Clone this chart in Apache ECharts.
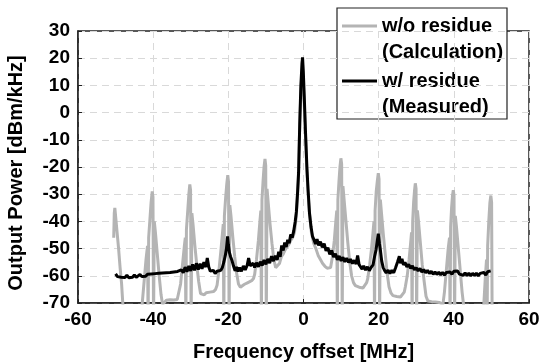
<!DOCTYPE html>
<html><head><meta charset="utf-8">
<script src="https://cdn.jsdelivr.net/npm/echarts@6/dist/echarts.min.js"></script>
<style>html,body{margin:0;padding:0;background:#fff}#c{width:539px;height:362px}</style>
</head><body><div id="c"></div>
<script>
// Axis ranges / ticks
const xRange = [-60, 60, 20];
const yRange = [-70, 30, 10];
const xTitle = 'Frequency offset [MHz]';
const yTitle = 'Output Power [dBm/kHz]';
const seriesNames = ['w/o residue (Calculation)', 'w/ residue (Measured)'];
const legendLines = [['w/o residue', '(Calculation)'], ['w/ residue', '(Measured)']];

// w/ residue (Measured): [MHz, dBm/kHz]
const measuredPoints = [
[-50,-59.3],[-49.5,-60.3],[-49,-59.6],[-48.5,-60.5],[-48,-59.9],[-47.5,-60.6],[-47,-59.8],[-46.5,-60.7],[-46,-60.0],[-45.5,-60.5],
[-45,-59.7],[-44.5,-60.6],[-44,-60.0],[-43.5,-59.5],[-43,-60.3],[-42.5,-59.6],[-42,-60.2],[-41.5,-59.4],[-41,-60.1],[-40.5,-59.3],
[-40,-59.9],[-39.5,-59.2],[-39,-59.9],[-38.5,-59.1],[-38,-59.8],[-37.5,-59.0],[-37,-59.6],[-36.5,-58.9],[-36,-59.5],[-35.5,-58.8],
[-35,-59.4],[-34.5,-58.6],[-34,-59.2],[-33.5,-58.4],[-33,-59.0],[-32.5,-57.8],[-32,-58.9],[-31.5,-56.8],[-31,-58.5],[-30.5,-56.4],
[-30,-58.2],[-29.5,-55.8],[-29,-58.0],[-28.5,-55.4],[-28,-57.7],[-27.5,-55.6],[-27,-57.4],[-26.5,-55.0],[-26,-56.8],[-25.6,-53.5],
[-25.2,-56.8],[-24.8,-58.3],[-24.4,-59.0],[-24,-58.0],[-23.5,-59.2],[-23,-58.3],[-22.5,-59.0],[-22,-58.0],[-21.6,-57.0],[-21.2,-55.0],
[-20.8,-52.5],[-20.5,-50.0],[-20.2,-45.5],[-20.0,-48.5],[-19.7,-51.5],[-19.4,-53.0],[-19.0,-54.5],[-18.6,-56.5],[-18.2,-58.2],[-17.8,-56.8],
[-17.4,-58.4],[-17,-57.0],[-16.5,-58.3],[-16,-56.4],[-15.5,-57.8],[-15,-56.2],[-14.6,-53.5],[-14.2,-56.3],[-13.8,-57.0],[-13.4,-55.4],
[-13,-56.9],[-12.5,-55.2],[-12,-56.7],[-11.5,-54.8],[-11,-56.2],[-10.5,-54.2],[-10,-55.8],[-9.5,-53.8],[-9,-55.3],[-8.5,-52.8],
[-8,-54.6],[-7.5,-52.6],[-7,-54.2],[-6.6,-51.2],[-6.2,-53.0],[-5.8,-48.8],[-5.4,-50.7],[-5.0,-47.8],[-4.6,-49.4],[-4.2,-46.8],
[-3.8,-48.0],[-3.4,-44.8],[-3.0,-46.0],[-2.6,-43.5],[-2.2,-40.0],[-1.9,-36.5],[-1.6,-30.0],[-1.3,-22.0],[-1.0,-4.0],[-0.7,10.0],
[-0.4,18.0],[-0.25,20.3],[-0.05,15.0],[0.2,6.0],[0.5,-6.0],[0.9,-20.0],[1.2,-28.0],[1.6,-37.0],[2.0,-42.0],[2.4,-45.5],
[2.8,-46.8],[3.2,-48.3],[3.6,-46.5],[4.0,-48.8],[4.5,-47.5],[5.0,-49.5],[5.5,-48.2],[6.0,-50.8],[6.5,-49.7],[7.0,-52.1],
[7.5,-50.7],[8.0,-53.1],[8.5,-51.9],[9.0,-54.1],[9.5,-52.7],[10,-54.5],[10.5,-53.2],[11,-54.9],[11.5,-53.5],[12,-55.1],
[12.5,-53.9],[13,-55.5],[13.5,-54.3],[14,-55.7],[14.4,-52.5],[14.8,-55.9],[15.2,-56.0],[15.6,-57.6],[16,-56.3],[16.5,-57.9],
[17,-56.7],[17.5,-58.1],[18,-56.9],[18.5,-56.0],[18.9,-53.0],[19.3,-50.5],[19.6,-47.5],[19.9,-44.5],[20.2,-48.0],[20.5,-51.0],
[20.8,-54.5],[21.2,-57.0],[21.6,-58.1],[22,-58.9],[22.5,-57.9],[23,-59.2],[23.5,-58.0],[24,-58.9],[24.5,-57.0],[25,-55.0],
[25.5,-52.8],[25.8,-55.4],[26.2,-53.8],[26.6,-56.0],[27,-55.0],[27.5,-56.7],[28,-55.8],[28.5,-57.3],[29,-56.4],[29.5,-57.8],
[30,-57.0],[30.5,-58.2],[31,-57.3],[31.5,-58.6],[32,-57.7],[32.5,-58.9],[33,-58.0],[33.5,-59.2],[34,-58.3],[34.5,-59.4],
[35,-58.6],[35.5,-59.5],[36,-58.7],[36.5,-59.6],[37,-58.8],[37.5,-59.7],[38,-58.8],[38.5,-59.5],[39,-58.6],[39.5,-59.4],
[40,-58.3],[40.5,-59.0],[41,-58.2],[41.5,-59.4],[42,-58.7],[42.5,-59.8],[43,-58.9],[43.5,-59.9],[44,-59.0],[44.5,-60.0],
[45,-59.1],[45.5,-59.9],[46,-59.0],[46.5,-60.0],[47,-59.1],[47.5,-59.8],[48,-58.8],[48.5,-59.7],[49,-58.5],[49.5,-59.2],[49.8,-58.2]
];

// w/o residue (Calculation): [MHz, dBm/kHz]
const calculatedPoints = [
[-50.5,-46],[-50.35,-37],[-50.2,-35.0],[-50.0,-38],[-49.6,-44],[-49.2,-50],[-48.8,-57],[-48.4,-63],[-48.0,-72],[-45.0,-80],
[-43.3,-80],[-42.9,-70],[-42.4,-62],[-41.9,-54],[-41.5,-49],[-41.35,-78],[-41.2,-46],[-40.85,-39],[-40.55,-33],[-40.25,-29.0],
[-40.05,-31],[-39.9,-78],[-39.7,-40],[-39.4,-44],[-38.9,-52],[-38.4,-60],[-37.9,-67],[-37.5,-70.5],
[-37.0,-69.8],[-36.5,-69.0],[-36.0,-69.6],[-35.5,-68.8],[-35.0,-69.4],[-34.5,-68.9],[-34.0,-69.5],[-33.6,-68.7],
[-33.2,-68],[-32.7,-63],[-32.2,-56],[-31.7,-49],[-31.45,-46],[-31.3,-78],[-31.15,-43],[-30.8,-36],[-30.5,-30],[-30.25,-26.4],
[-30.05,-28.5],[-29.9,-78],[-29.7,-37],[-29.4,-41],[-28.9,-49],[-28.4,-56],[-27.9,-62],[-27.4,-66.5],
[-26.9,-66.8],[-26.4,-67.0],[-25.9,-66.2],[-25.4,-66.8],[-24.9,-66.0],[-24.4,-66.5],[-23.9,-65.8],[-23.4,-65.0],
[-23.0,-63.5],[-22.5,-58],[-22.0,-51],[-21.6,-45],[-21.35,-41],[-21.2,-78],[-21.05,-38],[-20.7,-31],[-20.4,-26],[-20.15,-23],
[-19.95,-25.5],[-19.8,-78],[-19.6,-34],[-19.3,-38],[-18.8,-46],[-18.3,-53],[-17.8,-59],[-17.3,-63],
[-16.8,-64.2],[-16.3,-64.0],[-15.8,-63.2],[-15.3,-63.6],[-14.8,-62.5],[-14.3,-62.8],[-13.8,-61.8],[-13.3,-61.0],
[-13.0,-59.5],[-12.5,-54],[-12.0,-47],[-11.6,-40],[-11.35,-36],[-11.2,-78],[-11.05,-32],[-10.75,-25],[-10.5,-20],[-10.25,-17],
[-10.05,-19.5],[-9.9,-78],[-9.7,-28],[-9.4,-33],[-8.9,-41],[-8.4,-48],[-7.9,-54],[-7.4,-57],
[-6.9,-56.5],[-6.4,-55.5],[-5.9,-53.0],[-5.4,-52.0],[-4.9,-50.5],[-4.4,-49.5],[-3.9,-48.5],[-3.4,-47.0],[-2.9,-46.0],
[-2.4,-44],[-1.9,-38],[-1.4,-25],[-0.9,0],[-0.3,19],[0.3,0],[0.9,-22],[1.5,-36],[2.1,-44],[2.7,-48],
[3.3,-50],[3.9,-52.5],[4.5,-54],[5.1,-55.5],[5.7,-56.5],[6.3,-57.2],[6.8,-57.8],
[7.2,-57],[7.7,-53],[8.2,-47],[8.6,-40],[8.85,-36],[9.0,-78],[9.15,-32],[9.45,-25],[9.7,-20],[9.95,-16.8],
[10.15,-19],[10.3,-78],[10.5,-27],[10.8,-32],[11.3,-40],[11.8,-48],[12.3,-55],[12.8,-60],
[13.3,-62.5],[13.8,-63.6],[14.3,-63.2],[14.8,-64.2],[15.3,-63.8],[15.8,-64.5],[16.3,-63.9],[16.8,-62.5],
[17.1,-61],[17.6,-56],[18.1,-50],[18.5,-44],[18.75,-40],[18.9,-78],[19.05,-36],[19.35,-29],[19.65,-25],[19.9,-22.3],
[20.1,-24.5],[20.25,-78],[20.45,-32],[20.75,-37],[21.25,-45],[21.75,-52],[22.25,-59],[22.75,-64],
[23.3,-66.4],[23.8,-67.3],[24.3,-66.9],[24.8,-67.6],[25.3,-67.2],[25.8,-67.8],[26.3,-67.3],[26.8,-66.0],
[27.1,-64],[27.6,-60],[28.1,-54],[28.5,-48],[28.75,-44],[28.9,-78],[29.05,-40],[29.3,-33],[29.55,-28.5],[29.75,-26],
[29.95,-28],[30.1,-78],[30.3,-36],[30.6,-40],[31.1,-48],[31.6,-56],[32.1,-62],[32.6,-67.5],
[33.1,-69.3],[33.6,-68.7],[34.1,-69.5],[34.6,-68.9],[35.1,-69.6],[35.6,-69.0],[36.1,-69.8],[36.6,-69.5],
[37.1,-70.5],[37.5,-66],[38.0,-58],[38.5,-50],[38.85,-46],[39.0,-78],[39.15,-42],[39.4,-35],[39.65,-30.5],[39.85,-28.5],
[40.05,-30.5],[40.2,-78],[40.4,-38],[40.7,-42],[41.2,-50],[41.7,-58],[42.2,-66],[42.7,-72],[45,-80],
[47.5,-80],[48.0,-70],[48.4,-60],[48.7,-54],[48.85,-78],[49.0,-49],[49.3,-40],[49.6,-33],[49.85,-30.5],[50.05,-33],[50.2,-78]
];

const FONT = '"Liberation Sans", Arial, Helvetica, sans-serif';
const chart = echarts.init(document.getElementById('c'), null, {renderer: 'canvas'});

const legendColors = ['#b4b4b4', '#000000'];
const legendFont = 'bold 20px ' + FONT;
function legendText(str, y) {
  return {type: 'text', x: 382, y: y, style: {text: str, font: legendFont, fill: '#000', verticalAlign: 'middle', align: 'left'}};
}
const legendGraphic = {
  type: 'group', z: 100,
  children: [
    {type: 'rect', shape: {x: 337, y: 8, width: 170, height: 111},
     style: {fill: '#fff', stroke: '#222', lineWidth: 1.2}},
    {type: 'line', shape: {x1: 342, y1: 26, x2: 377, y2: 26}, style: {stroke: legendColors[0], lineWidth: 3}},
    legendText(legendLines[0][0], 26),
    legendText(legendLines[0][1], 52),
    {type: 'line', shape: {x1: 342, y1: 81, x2: 377, y2: 81}, style: {stroke: legendColors[1], lineWidth: 3}},
    legendText(legendLines[1][0], 81),
    legendText(legendLines[1][1], 107)
  ]
};

chart.setOption({
  animation: false,
  backgroundColor: '#fff',
  grid: {left: 78, top: 31, right: 10, bottom: 59, show: true, outerBoundsMode: 'none', containLabel: false,
         borderColor: '#222', borderWidth: 1.5, backgroundColor: 'transparent'},
  xAxis: {
    type: 'value', min: xRange[0], max: xRange[1], interval: xRange[2],
    name: xTitle, nameLocation: 'middle', nameGap: 39,
    nameTextStyle: {fontFamily: FONT, fontWeight: 'bold', fontSize: 20, color: '#000'},
    axisLine: {show: true, onZero: false, lineStyle: {color: '#222', width: 1.5}},
    axisTick: {show: true, inside: true, length: 4, lineStyle: {color: '#222'}},
    axisLabel: {fontFamily: FONT, fontWeight: 'bold', fontSize: 19, color: '#000', margin: 7},
    splitLine: {show: true, lineStyle: {color: '#d9d9d9', width: 1, type: [7, 5]}}
  },
  yAxis: {
    type: 'value', min: yRange[0], max: yRange[1], interval: yRange[2],
    name: yTitle, nameLocation: 'middle', nameGap: 52,
    nameTextStyle: {fontFamily: FONT, fontWeight: 'bold', fontSize: 20, color: '#000', padding: [0, 12, 0, 0]},
    axisLine: {show: true, onZero: false, lineStyle: {color: '#222', width: 1.5}},
    axisTick: {show: true, inside: true, length: 4, lineStyle: {color: '#222'}},
    axisLabel: {fontFamily: FONT, fontWeight: 'bold', fontSize: 19, color: '#000', margin: 8},
    splitLine: {show: true, lineStyle: {color: '#d9d9d9', width: 1, type: [7, 5]}}
  },
  graphic: [legendGraphic],
  series: [
    {name: seriesNames[0], type: 'line', data: calculatedPoints, showSymbol: false, clip: true,
     lineStyle: {color: legendColors[0], width: 3}, z: 2},
    {name: seriesNames[1], type: 'line', data: measuredPoints, showSymbol: false, clip: true,
     lineStyle: {color: legendColors[1], width: 3}, z: 3}
  ]
});
</script>
</body></html>
